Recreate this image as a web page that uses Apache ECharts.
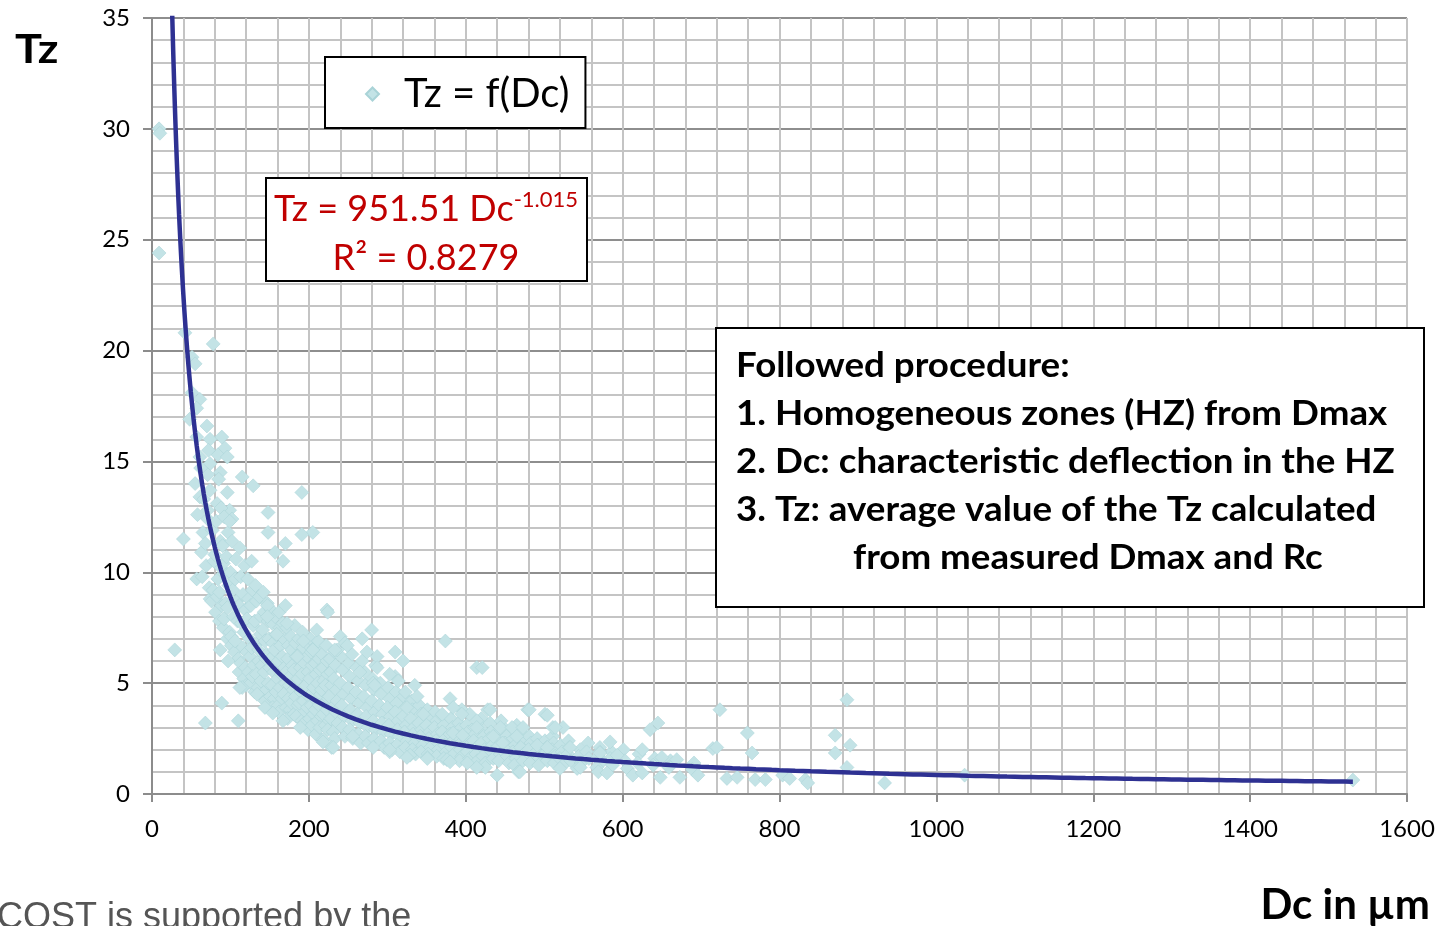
<!DOCTYPE html>
<html>
<head>
<meta charset="utf-8">
<title>Tz = f(Dc)</title>
<script src="https://cdn.jsdelivr.net/npm/echarts@6/dist/echarts.min.js"></script>
<style>
  html, body { margin: 0; padding: 0; background: #ffffff; overflow: hidden; }
  #chart { width: 1441px; height: 926px; }
</style>
</head>
<body>
<div id="chart"></div>
<script>
// Axis ranges and tick spacing
const xRange = [0, 1600];
const xStep = 200;
const yRange = [0, 35];
const yStep = 5;

// Power-law fit shown in the equation box: Tz = 951.51 * Dc^-1.015
const fitCoef = 951.51;
const fitExp = -1.015;
const fitR2 = 0.8279;

// Measured points [Dc (µm), Tz] — small-deflection branch with high Tz
const upperBranch = [
  [9,30.0],[10,29.8],[9,24.4],[42,20.8],[78,20.3],[51,19.7],[55,19.4],[51,18.1],[61,17.8],[57,17.4],
  [48,16.9],[70,16.6],[74,16.0],[89,16.1],[93,15.6],[84,15.3],[96,15.2],[61,15.2],[74,14.9],[115,14.3],
  [129,13.9],[55,14.0],[71,14.4],[87,14.5],[191,13.6],[96,13.6],[61,13.4],[83,13.1],[99,12.8],[148,12.7],
  [71,12.4],[102,12.4],[65,11.8],[148,11.8],[205,11.8],[191,11.7],[40,11.5],[170,11.3],[157,10.9],[167,10.5],
  [57,9.7],[74,8.8],[29,6.5]
];

// Main cloud of points around the fitted curve
const denseBand = [
  [58,12.6],[62,14.7],[57,16.1],[63,10.9],[66,13.3],[68,11.3],[64,9.8],
  [71,12.8],[69,10.3],[73,9.3],[72,15.5],[76,8.7],
  [77,11.9],[74,13.7],[78,9.2],[79,10.5],[81,8.2],
  [82,12.3],[80,10.8],[84,9.7],[83,8.9],[86,7.8],[85,14.2],
  [87,11.4],[88,10.2],[86,9.1],[89,8.5],[88,12.9],[91,7.5],
  [92,12.5],[90,11.2],[93,9.9],[94,8.6],[92,7.9],[96,7.0],[91,10.4],
  [97,11.8],[95,10.7],[98,9.4],[96,8.4],[99,7.3],[101,6.7],
  [102,11.4],[100,10.0],[103,9.2],[104,8.0],[101,7.1],[105,6.4],[99,12.3],
  [107,10.6],[106,9.7],[108,8.7],[109,7.8],[106,6.9],[110,6.1],[111,5.5],
  [112,11.1],[113,9.8],[111,8.5],[114,7.7],[116,6.6],[113,5.9],[117,5.2],
  [118,10.3],[116,9.0],[119,8.3],[117,7.3],[121,6.4],[119,5.7],[120,4.9],
  [122,9.7],[123,8.8],[121,7.9],[124,7.0],[125,6.2],[123,5.5],[126,5.0],
  [127,10.5],[128,9.2],[126,8.5],[129,7.6],[127,6.6],[130,5.8],[128,5.3],[131,4.6],
  [132,9.4],[133,8.7],[131,7.8],[134,6.8],[136,6.0],[133,5.4],[135,4.8],
  [137,8.9],[139,8.0],[138,7.2],[136,6.5],[140,5.8],[139,5.1],[141,4.4],
  [142,9.1],[143,8.2],[141,7.4],[144,6.9],[145,6.1],[143,5.5],[146,4.7],[144,4.2],
  [147,8.6],[148,7.8],[149,7.0],[146,6.3],[150,5.7],[148,5.0],[151,4.4],
  [152,8.3],[153,7.7],[154,6.8],[151,6.1],[155,5.5],[153,4.9],[156,4.3],[154,3.9],
  [157,8.0],[158,7.2],[156,6.5],[159,5.9],[160,5.2],[158,4.6],[161,4.0],
  [162,8.2],[163,7.5],[164,6.7],[161,6.0],[165,5.4],[163,4.8],[166,4.3],[162,3.7],
  [167,7.7],[168,7.0],[166,6.2],[169,5.7],[170,5.0],[168,4.5],[171,3.9],
  [172,7.5],[174,6.7],[173,6.1],[171,5.5],[175,4.9],[174,4.3],[176,3.8],[173,3.4],
  [177,7.1],[178,6.5],[179,5.8],[176,5.3],[180,4.7],[178,4.1],[181,3.6],
  [182,7.6],[183,6.8],[184,6.2],[181,5.6],[185,5.0],[183,4.4],[186,4.0],[184,3.5],
  [187,7.0],[188,6.3],[189,5.7],[186,5.2],[190,4.6],[188,4.1],[191,3.3],
  [192,7.3],[193,6.6],[194,5.9],[191,5.4],[195,4.8],[193,4.2],[196,3.7],[194,3.2],
  [197,6.8],[198,6.2],[199,5.5],[196,4.9],[200,4.4],[198,3.9],[201,3.4],[199,2.9],
  [202,7.0],[203,6.4],[204,5.8],[201,5.2],[205,4.6],[203,4.0],[206,3.6],[204,3.1],
  [207,6.6],[208,5.9],[209,5.4],[206,4.8],[210,4.2],[208,3.8],[211,3.3],[209,2.7],
  [212,6.9],[213,6.1],[214,5.6],[211,5.0],[215,4.5],[213,4.0],[216,3.5],[214,3.0],
  [217,6.3],[218,5.7],[219,5.1],[216,4.7],[220,4.1],[218,3.6],[221,3.1],
  [222,6.7],[223,6.0],[224,5.4],[221,4.9],[225,4.3],[223,3.8],[226,3.3],[224,2.9],
  [227,6.1],[228,5.5],[229,4.9],[226,4.4],[230,3.9],[228,3.4],[231,2.8],[233,2.5],
  [233,6.4],[234,5.8],[232,5.2],[235,4.7],[236,4.2],[234,3.7],[237,3.2],
  [241,6.2],[243,5.6],[240,5.0],[244,4.5],[242,4.0],[245,3.5],[243,3.0],[246,2.6],
  [251,5.9],[252,5.3],[250,4.8],[254,4.3],[253,3.8],[255,3.3],[252,2.9],[256,2.5],[255,6.3],
  [261,5.7],[263,5.1],[260,4.6],[264,4.1],[262,3.6],[265,3.2],[263,2.7],[266,2.3],
  [271,5.5],[272,4.9],[270,4.4],[274,3.9],[273,3.5],[275,3.0],[272,2.6],[276,2.3],[268,6.0],
  [281,5.2],[283,4.7],[280,4.2],[284,3.7],[282,3.3],[285,2.9],[283,2.5],[285,5.8],
  [291,5.0],[292,4.5],[290,4.0],[294,3.6],[293,3.2],[295,2.8],[292,2.4],[296,2.1],
  [301,4.8],[303,4.3],[300,3.9],[304,3.5],[302,3.1],[305,2.7],[303,2.3],[306,2.0],
  [311,4.6],[312,4.1],[310,3.7],[314,3.3],[313,2.9],[315,2.6],[312,2.2],[316,1.9],[310,5.3],
  [321,4.4],[323,3.9],[320,3.5],[324,3.1],[322,2.8],[325,2.4],[323,2.1],
  [331,4.2],[332,3.8],[330,3.4],[334,3.0],[333,2.7],[335,2.3],[332,2.0],[336,1.8],[335,4.9],
  [341,4.0],[343,3.6],[340,3.2],[344,2.9],[342,2.6],[345,2.2],[343,1.9],
  [351,3.8],[352,3.4],[350,3.1],[354,2.8],[353,2.5],[355,2.1],[352,1.8],
  [361,3.7],[363,3.3],[360,3.0],[364,2.7],[362,2.4],[365,2.0],[363,1.7],
  [371,3.5],[372,3.1],[370,2.8],[374,2.5],[373,2.2],[375,1.9],[372,1.6],
  [381,3.4],[383,3.0],[380,2.7],[384,2.4],[382,2.1],[385,1.8],[395,3.8],
  [391,3.2],[392,2.9],[390,2.6],[394,2.3],[393,2.0],[395,1.7],[392,1.5],
  [401,3.1],[403,2.8],[400,2.5],[404,2.2],[402,1.9],[405,1.6],[405,3.6],
  [411,3.0],[412,2.7],[410,2.4],[414,2.1],[413,1.8],[415,1.5],
  [421,2.9],[423,2.6],[420,2.3],[424,2.0],[422,1.7],[425,1.4],[420,3.4],
  [431,3.2],[432,2.8],[430,2.5],[434,2.2],[433,1.9],[435,1.6],
  [441,2.7],[443,2.4],[440,2.1],[444,1.8],[442,1.5],[445,3.3],
  [451,2.9],[452,2.6],[450,2.3],[454,2.0],[453,1.7],[455,1.4],
  [461,2.5],[463,2.2],[460,1.9],[464,1.6],[462,1.3],[465,3.1],
  [471,2.8],[472,2.4],[470,2.1],[474,1.8],[473,1.5],
  [481,2.6],[483,2.3],[480,2.0],[484,1.7],[482,1.4],
  [491,2.5],[492,2.2],[490,1.9],[494,1.6],[493,1.3],
  [501,2.4],[503,2.1],[500,1.8],[504,1.5],
  [511,2.6],[512,2.3],[510,2.0],[514,1.7],[513,1.4],
  [521,2.2],[523,1.9],[520,1.6],[524,1.3],
  [531,2.4],[532,2.1],[530,1.8],[534,1.5],
  [546,2.0],[544,1.7],[547,1.4],
  [556,2.3],[554,1.9],[557,1.6],
  [571,2.1],[569,1.7],[572,1.4],
  [586,1.9],[584,1.6],[587,1.3],
  [601,2.0],[603,1.5],
  [621,1.8],[619,1.4],
  [641,1.6],[639,1.3],
  [661,1.5],[659,1.2],
  [691,1.4],[689,1.1]
];

// Points on the edges of the cloud
const edgePoints = [
  [170,8.5],[223,8.3],[224,8.2],[147,8.5],[172,7.7],[159,7.2],[147,8.0],[193,6.9],[205,6.5],[185,6.2],
  [210,7.4],[280,7.4],[240,7.1],[268,7.0],[246,6.8],[274,6.4],[287,6.2],[236,6.5],[287,5.7],[265,5.5],
  [303,5.4],[282,5.0],[115,4.8],[89,4.1],[110,3.3],[68,3.2],
  [249,6.7],[233,6.5],[374,6.9],[310,6.4],[320,6.0],[314,5.1],[414,5.7],[284,4.9],[323,4.6],[338,4.4],
  [325,3.9],[380,4.3],[384,3.9],[428,3.8],[395,3.6],[370,3.6],[346,3.6],[414,3.3],[414,3.0],[479,3.8],
  [501,3.6],[444,3.0],[459,3.0],[473,3.0],[511,3.0],[524,3.0],[384,2.75],[396,2.65],[435,2.6],[465,2.6],
  [447,2.3],[491,2.2],[504,2.1],[533,2.1],[571,1.9],
  [218,2.45],[229,2.1],[282,2.1],[303,1.9],[329,1.75],[351,1.65],[376,1.55],[402,1.4],[425,1.2],[440,0.85],
  [467,1.0],[520,1.15],[542,1.15],[567,1.2],
  [87,6.5],[97,6.0],[112,4.8],[134,4.5],[144,3.9],[154,3.65],[167,3.3],[189,3.0],[218,2.35],[231,2.1],
  [256,2.6],[303,2.0],[325,1.65],[351,1.6],[380,1.45],[414,1.2],[469,1.0]
];

// Sparse points at large deflections
const tailPoints = [
  [421,5.7],[431,3.8],[481,3.8],[504,3.55],[514,3.0],[584,2.35],[571,1.85],[593,1.75],[625,2.0],[635,2.9],
  [645,3.2],[650,1.65],[669,1.55],[715,2.05],[724,3.8],[720,2.1],[759,2.75],[765,1.85],[546,1.2],[569,1.0],
  [580,0.95],[606,1.15],[613,0.85],[625,0.95],[648,0.75],[673,0.75],[696,0.85],[733,0.7],[746,0.75],[769,0.65],
  [782,0.65],[804,0.85],[813,0.7],[833,0.65],[836,0.5],[871,2.65],[871,1.85],[886,4.25],[890,2.2],[886,1.2],
  [934,0.5],[1036,0.85],[1531,0.63]
];

const measured = upperBranch.concat(denseBand, edgePoints, tailPoints);

// Fitted curve evaluated from the stated coefficients across the measured Dc span
const dcMin = Math.min.apply(null, measured.map(p => p[0]));
const dcMax = Math.max.apply(null, measured.map(p => p[0]));
const fitLine = [];
for (let d = dcMin; d < dcMax; d += (d < 60 ? 0.5 : d < 200 ? 2 : 10)) {
  fitLine.push([d, fitCoef * Math.pow(d, fitExp)]);
}
fitLine.push([dcMax, fitCoef * Math.pow(dcMax, fitExp)]);

// Notes box: [text, left indent]
const procedureLines = [
  ['Followed procedure:', 736],
  ['1. Homogeneous zones (HZ) from Dmax', 736],
  ['2. Dc: characteristic deflection in the HZ', 736],
  ['3. Tz: average value of the Tz calculated', 736],
  ['from measured Dmax and Rc', 853]
];

const chart = echarts.init(document.getElementById('chart'), null, { renderer: 'canvas' });

const gridGray = '#c4c4c4';
const axisGray = '#8c8c8c';
const labelFont = 'Lato, "Open Sans", sans-serif';

chart.setOption({
  animation: false,
  backgroundColor: '#ffffff',
  grid: { left: 152, right: 34, top: 18, bottom: 132, containLabel: false },
  legend: {
    data: ['Tz = f(Dc)'],
    left: 325,
    top: 57,
    orient: 'horizontal',
    backgroundColor: '#ffffff',
    borderColor: '#000000',
    borderWidth: 2,
    borderRadius: 0,
    padding: [17, 16, 14, 40],
    itemWidth: 13,
    itemHeight: 13,
    icon: 'diamond',
    textStyle: { fontFamily: labelFont, fontSize: 40, color: '#000', padding: [0, 0, 0, 20] }
  },
  xAxis: {
    type: 'value',
    min: xRange[0],
    max: xRange[1],
    interval: xStep,
    axisLine: { show: true, onZero: false, lineStyle: { color: axisGray, width: 2 } },
    axisTick: { show: true, length: 8, lineStyle: { color: axisGray, width: 2 } },
    axisLabel: { fontFamily: labelFont, fontSize: 24, color: '#000', margin: 23, formatter: v => String(v) },
    splitLine: { show: true, lineStyle: { color: gridGray, width: 2 } },
    minorTick: { show: false, splitNumber: 5 },
    minorSplitLine: { show: true, lineStyle: { color: gridGray, width: 2 } }
  },
  yAxis: {
    type: 'value',
    min: yRange[0],
    max: yRange[1],
    interval: yStep,
    axisLine: { show: true, lineStyle: { color: axisGray, width: 2 } },
    axisTick: { show: true, length: 9, lineStyle: { color: axisGray, width: 2 } },
    axisLabel: { fontFamily: labelFont, fontSize: 24, color: '#000', margin: 22, formatter: v => String(v) },
    splitLine: { show: true, lineStyle: { color: '#8e8e8e', width: 2 } },
    minorTick: { show: false, splitNumber: 5 },
    minorSplitLine: { show: true, lineStyle: { color: gridGray, width: 2 } }
  },
  series: [
    {
      name: 'Tz = f(Dc)',
      type: 'scatter',
      data: measured,
      symbol: 'diamond',
      symbolSize: 14,
      itemStyle: { color: '#c3e3e6', borderColor: '#a9d3d7', borderWidth: 0.5, opacity: 1 },
      z: 2
    },
    {
      name: 'Power fit',
      type: 'line',
      data: fitLine,
      showSymbol: false,
      symbol: 'none',
      clip: true,
      lineStyle: { color: '#2e3192', width: 4.5 },
      z: 3
    }
  ],
  graphic: [
    { type: 'text', x: 15, y: 50, scaleX: 1.1, style: { text: 'Tz', fontFamily: labelFont, fontWeight: 'bold', fontSize: 41, fill: '#000', align: 'left', verticalAlign: 'middle' } },
    { type: 'text', x: 1430, y: 905, style: { text: 'Dc in µm', fontFamily: labelFont, fontWeight: 'bold', fontSize: 42, fill: '#000', align: 'right', verticalAlign: 'middle' } },
    { type: 'text', x: -3, y: 918, style: { text: 'COST is supported by the', fontFamily: '"Liberation Sans", Arial, sans-serif', fontSize: 36, fill: '#555555', align: 'left', verticalAlign: 'middle' } },
    // Fit equation box
    { type: 'rect', shape: { x: 266, y: 178, width: 321, height: 103 }, style: { fill: '#ffffff', stroke: '#000000', lineWidth: 2 }, z: 10 },
    {
      type: 'text', x: 426, y: 209, z: 11,
      style: {
        text: '{b|Tz = ' + fitCoef.toFixed(2) + ' Dc}{s|' + fitExp.toFixed(3) + '}',
        align: 'center', verticalAlign: 'middle',
        rich: {
          b: { fontFamily: labelFont, fontSize: 36, fill: '#c00000', lineHeight: 40 },
          s: { fontFamily: labelFont, fontSize: 22, fill: '#c00000', lineHeight: 24, verticalAlign: 'top' }
        }
      }
    },
    { type: 'text', x: 426, y: 258, z: 11, style: { text: 'R² = ' + fitR2.toFixed(4), fontFamily: labelFont, fontSize: 36, fill: '#c00000', align: 'center', verticalAlign: 'middle' } },
    // Procedure notes box
    { type: 'rect', shape: { x: 716, y: 328, width: 708, height: 279 }, style: { fill: '#ffffff', stroke: '#000000', lineWidth: 2 }, z: 10 }
  ].concat(procedureLines.map((row, i) => ({
    type: 'text', x: row[1], y: 366 + i * 48, z: 11, scaleX: 1.08,
    style: { text: row[0], fontFamily: labelFont, fontWeight: 'bold', fontSize: 34, fill: '#000', align: 'left', verticalAlign: 'middle' }
  })))
});
</script>
</body>
</html>
